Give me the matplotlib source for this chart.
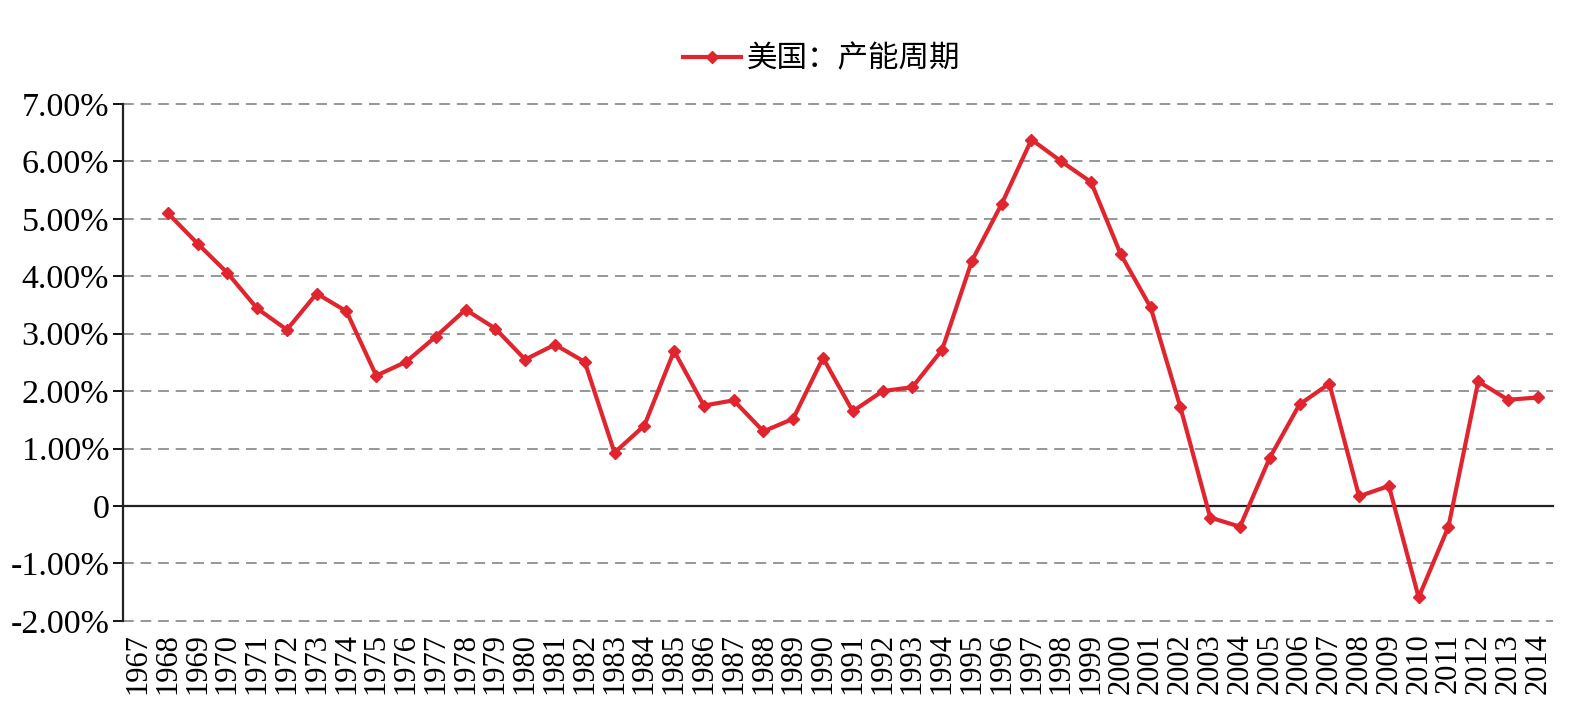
import matplotlib
matplotlib.use("Agg")
import matplotlib.pyplot as plt
from matplotlib.ticker import FixedLocator, FuncFormatter

years = [str(y) for y in range(1967, 2015)]
series_years = list(range(1968, 2015))
values = [5.10, 4.57, 4.06, 3.44, 3.07, 3.70, 3.39, 2.27, 2.51, 2.95,
          3.42, 3.09, 2.55, 2.81, 2.51, 0.93, 1.40, 2.70, 1.75, 1.84,
          1.30, 1.52, 2.58, 1.65, 2.00, 2.07, 2.72, 4.27, 5.26, 6.38,
          6.00, 5.64, 4.38, 3.46, 1.72, -0.20, -0.36, 0.84, 1.77, 2.13,
          0.17, 0.35, -1.59, -0.36, 2.17, 1.85, 1.89]
yticks = [-2, -1, 0, 1, 2, 3, 4, 5, 6, 7]
legend_label = "美国：产能周期"

plt.rcParams['font.family'] = ['Liberation Serif', 'Noto Sans CJK SC']

fig = plt.figure(figsize=(15.86, 7.22), dpi=100)
ax = fig.add_axes([0.0776, 0.140, 0.9014, 0.716])

xpos = [years.index(str(y)) for y in series_years]
ax.plot(xpos, values, color='#E0252F', lw=3.0, marker='D', ms=6,
        label=legend_label, solid_joinstyle='miter', zorder=3)

ax.set_xlim(-0.5, len(years) - 0.5)
ax.set_ylim(-2, 7)
ax.yaxis.set_major_locator(FixedLocator(yticks))
ax.yaxis.set_major_formatter(FuncFormatter(lambda v, p: "0" if v == 0 else f"{v:.2f}%"))
ax.set_xticks(range(len(years)))
ax.set_xticklabels(years, rotation=90, fontsize=22, family='Liberation Serif')
ax.tick_params(axis='x', length=0, pad=9)
ax.tick_params(axis='y', labelsize=24.5, length=7, width=1.3, direction='out', pad=3)

for v in yticks:
    if v == 0:
        ax.axhline(0, color='#222222', lw=1.6, zorder=1, clip_on=False)
    else:
        ax.axhline(v, color='#7a7a7a', lw=1.1, ls=(0, (7, 4.5)), zorder=0, clip_on=False)

for s in ['top', 'right', 'bottom']:
    ax.spines[s].set_visible(False)
ax.spines['left'].set_linewidth(1.6)
ax.spines['left'].set_color('#222222')

leg = fig.legend(loc='center', bbox_to_anchor=(0.518, 0.918), frameon=False,
                 prop={'family': ['Noto Sans CJK SC'], 'size': 22},
                 handlelength=1.9, handletextpad=0.2)

fig.savefig("out.png", dpi=100)
